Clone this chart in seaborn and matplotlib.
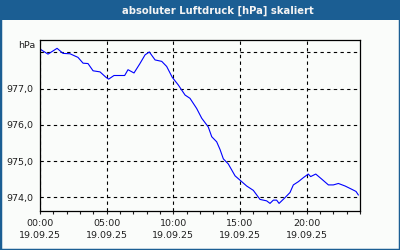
import pandas as pd
import matplotlib.pyplot as plt
import seaborn as sns
from matplotlib.patches import Rectangle
from matplotlib.ticker import FuncFormatter, MultipleLocator

# Stunden ab 19.09.25 00:00 und gemessener Luftdruck
stunden = [0.0, 0.6, 1.28, 1.73, 2.25, 2.85, 3.23, 3.6, 3.98, 4.5, 4.95, 5.15,
           5.55, 6.35, 6.6, 7.05, 7.48, 7.88, 8.2, 8.63, 9.13, 9.5, 9.92, 10.37,
           10.88, 11.25, 11.75, 12.13, 12.62, 12.88, 13.25, 13.5, 13.75, 14.12,
           14.63, 15.13, 15.5, 16.0, 16.5, 17.0, 17.25, 17.5, 17.75, 17.93,
           18.38, 18.75, 19.0, 19.38, 19.75, 20.12, 20.3, 20.68, 21.13, 21.63,
           22.0, 22.38, 22.88, 23.38, 23.7, 23.88]
druck = [978.09, 977.95, 978.11, 977.97, 977.96, 977.86, 977.70, 977.69, 977.49,
         977.46, 977.31, 977.26, 977.36, 977.36, 977.52, 977.43, 977.68, 977.93,
         978.01, 977.79, 977.75, 977.61, 977.31, 977.10, 976.82, 976.73, 976.45,
         976.18, 975.94, 975.67, 975.53, 975.32, 975.06, 974.92, 974.59, 974.43,
         974.31, 974.19, 973.94, 973.90, 973.83, 973.92, 973.92, 973.83, 973.99,
         974.13, 974.34, 974.43, 974.54, 974.64, 974.57, 974.64, 974.50, 974.34,
         974.34, 974.38, 974.31, 974.22, 974.16, 974.06]
x_ticks = [0, 5, 10, 15, 20]
x_labels = ['00:00\n19.09.25', '05:00\n19.09.25', '10:00\n19.09.25',
            '15:00\n19.09.25', '20:00\n19.09.25']
y_ticks = [974, 975, 976, 977, 978]
y_labels = ['974,0', '975,0', '976,0', '977,0', '']

blau = '#1b5e93'
hintergrund = '#fafcfa'

sns.set_style('white')
plt.rcParams['font.family'] = ['DejaVu Sans']

df = pd.DataFrame({'stunde': stunden, 'hpa': druck})

fig = plt.figure(figsize=(4, 2.5), dpi=100, facecolor=hintergrund)
ax = fig.add_axes([40 / 400, 1 - 211 / 250, 320 / 400, 171 / 250])
ax.set_facecolor(hintergrund)

sns.lineplot(data=df, x='stunde', y='hpa', color='#0000ff', linewidth=0.8, ax=ax)

ax.set_xlim(0, 24)
ax.set_ylim(973.62, 978.34)
ax.set_xticks(x_ticks)
ax.set_xticklabels(x_labels, fontsize=6.8, linespacing=1.5)
ax.xaxis.set_minor_locator(MultipleLocator(1))
ax.set_yticks(y_ticks)
ax.set_yticklabels(y_labels, fontsize=6.8)
ax.tick_params(axis='y', length=0, pad=5, colors='#202020')
ax.tick_params(axis='x', which='both', direction='out', length=2.5, width=0.8,
               bottom=True, pad=3, colors='#202020')
ax.set_xlabel('')
ax.set_ylabel('')
ax.grid(True, color='black', linestyle=(0, (3, 3)), linewidth=0.8)
for s in ax.spines.values():
    s.set_color('black')
    s.set_linewidth(0.9)

ax.text(-0.015, 0.965, 'hPa', transform=ax.transAxes, ha='right', va='center',
        fontsize=6.8, color='#202020')

# Titelleiste und Rahmen
fig.patches.append(Rectangle((0, 1 - 20 / 250), 1, 20 / 250, transform=fig.transFigure,
                             facecolor=blau, edgecolor='none', zorder=0))
fig.patches.append(Rectangle((0, 0), 1, 1, transform=fig.transFigure,
                             facecolor='none', edgecolor=blau, linewidth=2.5, zorder=1))
fig.text(0.545, 1 - 10.5 / 250, 'absoluter Luftdruck [hPa] skaliert', ha='center',
         va='center', fontsize=7.2, fontweight='bold', color='#f4f4f4')

fig.savefig('out.png', dpi=100, facecolor=hintergrund)
